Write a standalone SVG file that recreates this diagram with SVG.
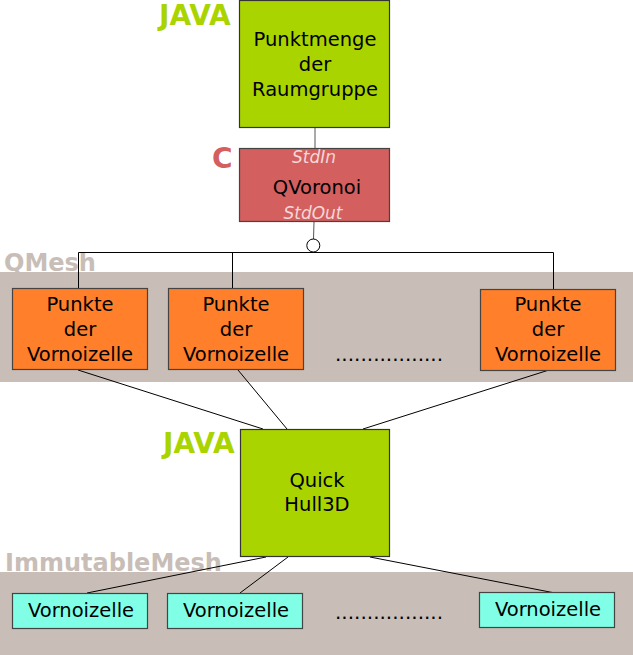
<svg xmlns="http://www.w3.org/2000/svg" width="633" height="655" viewBox="0 0 633 655">
<style>
text{font-family:"DejaVu Sans","Liberation Sans",sans-serif;}
.band{fill:#c8beb7;}
.bandlabel{fill:#c8beb7;font-weight:bold;font-size:24px;}
.lang{font-weight:bold;font-size:28px;}
.java{fill:#aad400;stroke:#333;stroke-width:1.2;}
.qv{fill:#d35f5f;stroke:#444;stroke-width:1.2;}
.pk{fill:#ff7f2a;stroke:#444;stroke-width:1.2;}
.vz{fill:#80ffe6;stroke:#444;stroke-width:1.2;}
.t{font-size:19.5px;fill:#000;text-anchor:middle;}
.io{font-size:17px;font-style:italic;fill:#f4d7d7;text-anchor:middle;}
.dots{font-size:20px;fill:#000;}
.conn line,.conn polyline{stroke:#000;stroke-width:1;fill:none;}
.conn .g{stroke:#555;}
</style>
<rect class="band" x="0" y="272" width="633" height="110"/>
<text class="bandlabel" x="4" y="271">QMesh</text>
<rect class="band" x="0" y="572" width="633" height="83"/>
<text class="bandlabel" x="5" y="571">ImmutableMesh</text>
<g class="conn">
<line class="g" x1="315" y1="128" x2="315" y2="148"/>
<line class="g" x1="314" y1="222" x2="313.5" y2="239"/>
<polyline points="78.5,289 78.5,252.5 553.5,252.5 553.5,289"/>
<line x1="232.5" y1="252.5" x2="232.5" y2="289"/>
<line x1="78" y1="370" x2="263" y2="429"/>
<line x1="238" y1="370" x2="287" y2="429"/>
<line x1="549" y1="370" x2="363" y2="429"/>
<line x1="266" y1="557" x2="87" y2="593"/>
<line x1="288" y1="557" x2="240" y2="593"/>
<line x1="370" y1="557" x2="555" y2="593"/>
<circle cx="313.3" cy="245.5" r="6.5" fill="#fff" stroke="#000" stroke-width="1"/>
</g>
<g id="punktmenge">
<text class="lang" x="159" y="25" fill="#aad400">JAVA</text>
<rect class="java" x="239.5" y="0.5" width="150" height="127"/>
<text class="t" x="315" y="46" font-size="20">Punktmenge</text>
<text class="t" x="315" y="71" font-size="20">der</text>
<text class="t" x="315" y="96" font-size="20">Raumgruppe</text>
</g>
<g id="qvoronoi">
<text class="lang" x="212" y="168" fill="#d35f5f">C</text>
<rect class="qv" x="239.5" y="148.5" width="150" height="73"/>
<text class="io" x="314" y="163">StdIn</text>
<text class="t" x="317" y="193.5">QVoronoi</text>
<text class="io" x="313" y="219">StdOut</text>
</g>
<g id="punkte1">
<rect class="pk" x="12.5" y="288.5" width="135" height="81"/>
<text class="t" x="80" y="311">Punkte</text>
<text class="t" x="80" y="336">der</text>
<text class="t" x="80" y="361">Vornoizelle</text>
</g>
<g id="punkte2">
<rect class="pk" x="168.5" y="288.5" width="135" height="81"/>
<text class="t" x="236" y="311">Punkte</text>
<text class="t" x="236" y="336">der</text>
<text class="t" x="236" y="361">Vornoizelle</text>
</g>
<text class="dots" x="335" y="361">.................</text>
<g id="punkte3">
<rect class="pk" x="480.5" y="289.5" width="135" height="81"/>
<text class="t" x="548" y="311">Punkte</text>
<text class="t" x="548" y="336">der</text>
<text class="t" x="548" y="361">Vornoizelle</text>
</g>
<g id="quickhull">
<text class="lang" x="163" y="453" fill="#aad400">JAVA</text>
<rect class="java" x="240.5" y="429.5" width="149" height="127"/>
<text class="t" x="317" y="487">Quick</text>
<text class="t" x="317" y="511">Hull3D</text>
</g>
<g id="vz1">
<rect class="vz" x="12.5" y="593.5" width="135" height="35"/>
<text class="t" x="81" y="616.5">Vornoizelle</text>
</g>
<g id="vz2">
<rect class="vz" x="167.5" y="593.5" width="135" height="35"/>
<text class="t" x="236" y="616.5">Vornoizelle</text>
</g>
<text class="dots" x="335" y="619">.................</text>
<g id="vz3">
<rect class="vz" x="479.5" y="592.5" width="135" height="35"/>
<text class="t" x="548" y="616">Vornoizelle</text>
</g>
</svg>
